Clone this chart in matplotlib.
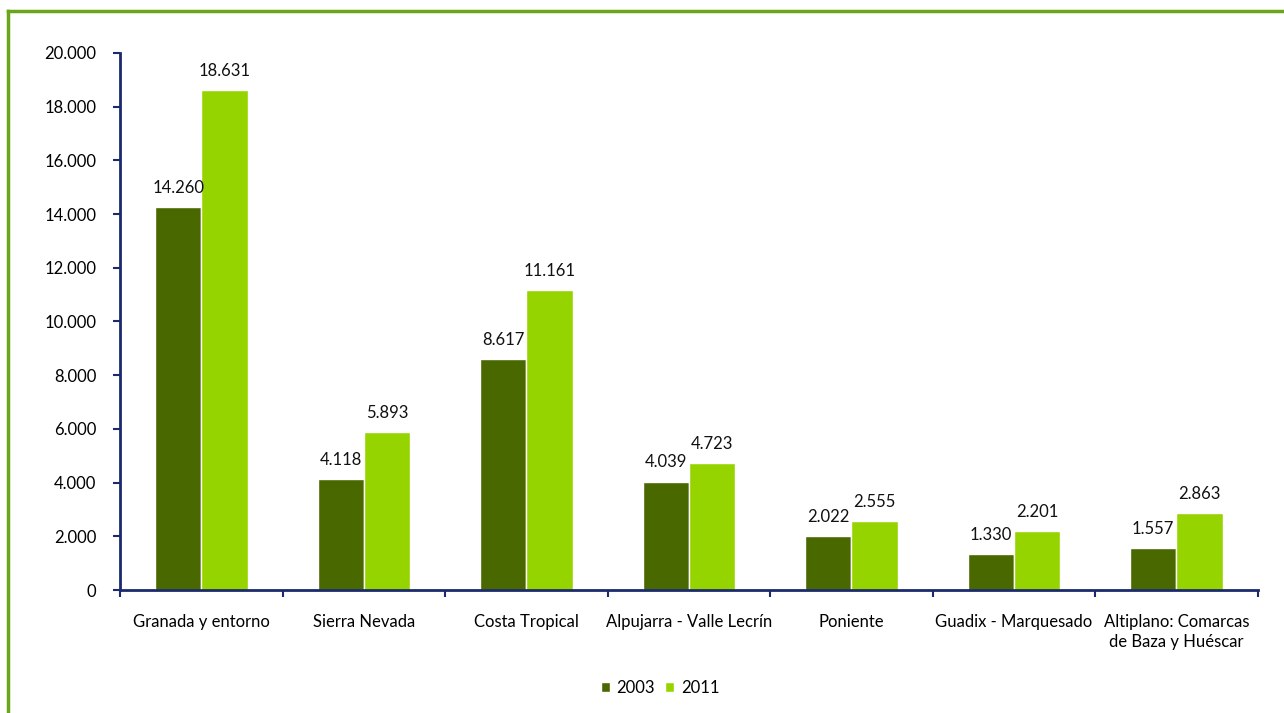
import matplotlib.pyplot as plt
import numpy as np
from matplotlib.lines import Line2D
from matplotlib.ticker import FuncFormatter, FixedLocator

plt.rcParams['font.family'] = ['Lato', 'DejaVu Sans']

comarcas = ['Granada y entorno', 'Sierra Nevada', 'Costa Tropical',
            'Alpujarra - Valle Lecrín', 'Poniente', 'Guadix - Marquesado',
            'Altiplano: Comarcas\nde Baza y Huéscar']
v2003 = [14260, 4118, 8617, 4039, 2022, 1330, 1557]
v2011 = [18631, 5893, 11161, 4723, 2555, 2201, 2863]

dark = '#4a6800'
light = '#96d400'
axis_col = '#1a2a6c'
fs = 12


def miles(v, pos=None):
    return f'{int(round(v)):,}'.replace(',', '.')


fig = plt.figure(figsize=(12.84, 7.13), dpi=100)
ax = fig.add_axes([0.0935, 0.1725, 0.886, 0.7532])

x = np.arange(len(comarcas))
w = 0.285
b1 = ax.bar(x - w / 2, v2003, w, color=dark, edgecolor='white', linewidth=1, label='2003')
b2 = ax.bar(x + w / 2, v2011, w, color=light, edgecolor='white', linewidth=1, label='2011')

for bars, vals in ((b1, v2003), (b2, v2011)):
    for r, v in zip(bars, vals):
        ax.annotate(miles(v), (r.get_x() + r.get_width() / 2, v),
                    xytext=(0, 8), textcoords='offset points',
                    ha='center', va='bottom', fontsize=fs, color='#111111')

ax.set_xlim(-0.5, len(comarcas) - 0.5)
ax.set_ylim(0, 20000)
ax.set_yticks(np.arange(0, 20001, 2000))
ax.yaxis.set_major_formatter(FuncFormatter(miles))

# category labels centred, tick marks on the boundaries
ax.set_xticks(x)
ax.set_xticklabels(comarcas, fontsize=fs, linespacing=1.35)
ax.tick_params(axis='x', which='major', length=0, pad=17)
ax.xaxis.set_minor_locator(FixedLocator(np.arange(-0.5, len(comarcas), 1.0)))
ax.tick_params(axis='x', which='minor', length=5, width=1.5, color=axis_col, direction='out')
ax.tick_params(axis='y', length=5, width=1.5, color=axis_col, labelsize=fs, pad=12)

for s in ('top', 'right'):
    ax.spines[s].set_visible(False)
for s in ('left', 'bottom'):
    ax.spines[s].set_color(axis_col)
    ax.spines[s].set_linewidth(2)

fig.legend(handles=[b1, b2], loc='center', bbox_to_anchor=(0.514, 0.035), ncol=2,
           frameon=False, fontsize=fs, handlelength=0.55, handleheight=0.55,
           handletextpad=0.4, columnspacing=0.6)

# green frame around the chart area
border = '#6aa51a'
fig.add_artist(Line2D([8 / 1284, 1], [1 - 11 / 713, 1 - 11 / 713], color=border, lw=2.5))
fig.add_artist(Line2D([8 / 1284, 8 / 1284], [0, 1 - 11 / 713], color=border, lw=2.5))

fig.savefig('out.png', dpi=100)
